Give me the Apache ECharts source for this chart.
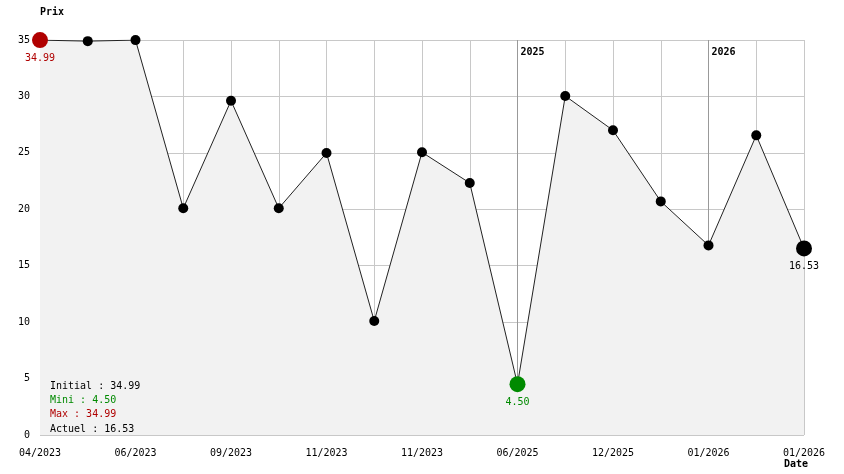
<!DOCTYPE html>
<html><head><meta charset="utf-8">
<script src="https://cdn.jsdelivr.net/npm/echarts@6/dist/echarts.min.js"></script>
<style>html,body{margin:0;padding:0;background:#fff}#c{width:844px;height:474px}</style>
</head><body><div id="c"></div>
<script>
var categories = ['04/2023','05/2023','06/2023','08/2023','09/2023','10/2023','11/2023','11/2023','11/2023','01/2024','06/2025','09/2025','12/2025','12/2025','01/2026','01/2026','01/2026'];
var prices = [34.99, 34.9, 34.99, 20.09, 29.62, 20.09, 24.99, 10.1, 25.05, 22.33, 4.50, 30.04, 27.0, 20.7, 16.8, 26.55, 16.53];
var yearMarks = {10: '2025', 14: '2026'};
var yTicks = [0, 5, 10, 15, 20, 25, 30, 35];

var FONT = 'DejaVu Sans Mono';
var FS = 10;
var RED = '#b00000', GREEN = '#008a00';
var maxV = Math.max.apply(null, prices), minV = Math.min.apply(null, prices);
var iMax = prices.indexOf(maxV), iMin = prices.indexOf(minV), iLast = prices.length - 1;

var data = prices.map(function (v, i) {
  var item = { value: v };
  var special = null;
  if (i === iMax) special = RED; else if (i === iMin) special = GREEN; else if (i === iLast) special = '#000';
  if (special) {
    item.symbolSize = 16;
    item.itemStyle = { color: special };
    item.label = { show: true, position: 'bottom', distance: 5, color: special, fontFamily: FONT, fontSize: FS,
      formatter: function (p) { return p.value.toFixed(2); } };
  }
  return item;
});

var chart = echarts.init(document.getElementById('c'));
chart.setOption({
  animation: false,
  backgroundColor: '#fff',
  textStyle: { fontFamily: FONT },
  grid: { left: 40, right: 40, top: 40, bottom: 39 },
  title: [{
    left: 50, top: 379, padding: 0,
    text: '{k|Initial : ' + prices[0].toFixed(2) + '}\n{g|Mini : ' + minV.toFixed(2) + '}\n{r|Max : ' + maxV.toFixed(2) + '}\n{k|Actuel : ' + prices[iLast].toFixed(2) + '}',
    textStyle: { fontFamily: FONT, fontSize: FS, fontWeight: 'normal', lineHeight: 14.3,
      rich: { k: { color: '#000', fontFamily: FONT, fontSize: FS, lineHeight: 14.3 },
              g: { color: GREEN, fontFamily: FONT, fontSize: FS, lineHeight: 14.3 },
              r: { color: RED, fontFamily: FONT, fontSize: FS, lineHeight: 14.3 } } }
  }, {
    left: 784, top: 459, padding: 0, text: 'Date',
    textStyle: { fontFamily: FONT, fontSize: FS, fontWeight: 'bold', color: '#000' }
  }],
  xAxis: [{
    type: 'category', data: categories, boundaryGap: false,
    axisLine: { show: false }, axisTick: { show: false },
    axisLabel: { interval: 1, margin: 13, color: '#000', fontFamily: FONT, fontSize: FS },
    splitLine: { show: true, interval: 0, lineStyle: { color: '#c8c8c8', width: 1 } }
  }, {
    type: 'category', data: categories, boundaryGap: false, position: 'top',
    axisLine: { show: false }, axisTick: { show: false },
    axisLabel: { inside: true, margin: 7, align: 'left', padding: [0, 0, 0, 3], color: '#000', fontFamily: FONT, fontSize: FS, fontWeight: 'bold',
      interval: function (i) { return yearMarks[i] !== undefined; },
      formatter: function (v, i) { return yearMarks[i] || ''; } },
    splitLine: { show: true, interval: function (i) { return yearMarks[i] !== undefined; }, lineStyle: { color: '#999', width: 1 } }
  }],
  yAxis: {
    type: 'value', min: 0, max: 35, interval: 5,
    name: 'Prix', nameLocation: 'end', nameGap: 28,
    nameTextStyle: { align: 'left', verticalAlign: 'middle', fontFamily: FONT, fontSize: FS, fontWeight: 'bold', color: '#000' },
    axisLine: { show: false }, axisTick: { show: false },
    axisLabel: { margin: 10, color: '#000', fontFamily: FONT, fontSize: FS,
      formatter: function (v) { return yTicks.indexOf(v) >= 0 ? String(v) : ''; } },
    splitLine: { show: true, lineStyle: { color: '#c8c8c8', width: 1 } }
  },
  series: [{
    type: 'line', data: data, symbol: 'circle', symbolSize: 10,
    itemStyle: { color: '#000' },
    lineStyle: { color: '#222', width: 1 },
    areaStyle: { color: '#f2f2f2', opacity: 1 }
  }]
});
</script>
</body></html>
